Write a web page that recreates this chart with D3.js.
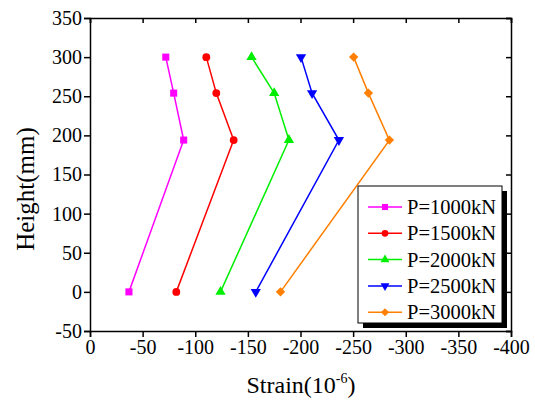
<!DOCTYPE html>
<html>
<head>
<meta charset="utf-8">
<script src="https://cdn.jsdelivr.net/npm/d3@7"></script>
</head>
<body style="margin:0">
<div id="chart"></div>
<script>
// data
const heights = [300, 254, 194, 0];
const loads = ["P=1000kN", "P=1500kN", "P=2000kN", "P=2500kN", "P=3000kN"];
const strain1000 = [-72, -79.5, -89, -37];
const strain1500 = [-110.5, -120, -136.5, -82];
const strain2000 = [-153.5, -175, -189, -124];
const strain2500 = [-200.5, -211, -236.5, -157.5];
const strain3000 = [-250.5, -264.5, -284.5, -181];
const colors = ["#ff00ff", "#ff0000", "#00ee00", "#0000ff", "#ff8000"];
const xTicks = [0, -50, -100, -150, -200, -250, -300, -350, -400];
const yTicks = [-50, 0, 50, 100, 150, 200, 250, 300, 350];

// marker: symbol type, size, rotation
const markers = [
  { type: d3.symbolSquare, size: 50, rot: 0 },
  { type: d3.symbolCircle, size: 48, rot: 0 },
  { type: d3.symbolTriangle, size: 46, rot: 0 },
  { type: d3.symbolTriangle, size: 46, rot: 180 },
  { type: d3.symbolSquare, size: 44, rot: 45 }
];

const series = [strain1000, strain1500, strain2000, strain2500, strain3000].map((s, i) => ({
  name: loads[i],
  color: colors[i],
  marker: markers[i],
  points: s.map((v, j) => ({ x: v, y: heights[j] }))
}));

const W = 535, H = 401;
const margin = { top: 18, right: 24, bottom: 70, left: 90 };
const width = W - margin.left - margin.right, height = H - margin.top - margin.bottom;
const serif = "Liberation Serif";

const svg = d3.select("#chart").append("svg")
  .attr("width", W).attr("height", H);

const g = svg.append("g")
  .attr("transform", `translate(${margin.left},${margin.top})`);

const x = d3.scaleLinear().domain([0, -400]).range([0, width]);
const y = d3.scaleLinear().domain([-50, 350]).range([height, 0]);

const fmt = d => String(d);

// axes
g.append("g").attr("transform", `translate(0,${height})`)
  .call(d3.axisBottom(x).tickValues(xTicks).tickFormat(fmt).tickSize(6).tickPadding(3))
  .call(a => a.attr("font-family", serif).attr("font-size", 20))
  .call(a => a.selectAll("text").attr("fill", "#000"));
g.append("g")
  .call(d3.axisLeft(y).tickValues(yTicks).tickFormat(fmt).tickSize(6).tickPadding(2))
  .call(a => a.attr("font-family", serif).attr("font-size", 20))
  .call(a => a.selectAll("text").attr("fill", "#000"));
g.append("g")
  .call(d3.axisTop(x).tickValues(xTicks).tickFormat("").tickSize(-5));
g.append("g").attr("transform", `translate(${width},0)`)
  .call(d3.axisRight(y).tickValues(yTicks).tickFormat("").tickSize(-5));
g.selectAll(".domain, .tick line").attr("stroke", "#000").attr("stroke-width", 1.5);

// lines + markers
const line = d3.line().x(d => x(d.x)).y(d => y(d.y));
series.forEach(s => {
  g.append("path").datum(s.points)
    .attr("fill", "none").attr("stroke", s.color).attr("stroke-width", 1.5)
    .attr("d", line);
  g.selectAll(null).data(s.points).enter().append("path")
    .attr("d", d3.symbol().type(s.marker.type).size(s.marker.size))
    .attr("transform", d => `translate(${x(d.x)},${y(d.y)}) rotate(${s.marker.rot})`)
    .attr("fill", s.color);
});

// legend
const lg = svg.append("g").attr("transform", "translate(358,186)");
const lw = 144, lh = 137;
lg.append("rect").attr("x", 5).attr("y", 5).attr("width", lw).attr("height", lh).attr("fill", "#000");
lg.append("rect").attr("width", lw).attr("height", lh).attr("fill", "#fff")
  .attr("stroke", "#000").attr("stroke-width", 1);
series.forEach((s, i) => {
  const yy = 21 + i * 26.3;
  lg.append("line").attr("x1", 10).attr("x2", 44).attr("y1", yy).attr("y2", yy)
    .attr("stroke", s.color).attr("stroke-width", 1.5);
  lg.append("path")
    .attr("d", d3.symbol().type(s.marker.type).size(s.marker.size * 0.75))
    .attr("transform", `translate(27,${yy}) rotate(${s.marker.rot})`)
    .attr("fill", s.color);
  lg.append("text").attr("x", 49).attr("y", yy + 7)
    .attr("font-family", serif).attr("font-size", 20.5).text(s.name);
});

// axis titles
const xt = svg.append("text").attr("x", 301).attr("y", 393)
  .attr("text-anchor", "middle").attr("font-family", serif).attr("font-size", 24);
xt.append("tspan").text("Strain(10");
xt.append("tspan").attr("font-size", 14).attr("dy", -10).text("-6");
xt.append("tspan").attr("dy", 10).text(")");

svg.append("text")
  .attr("transform", `translate(34,189) rotate(-90)`)
  .attr("text-anchor", "middle").attr("font-family", serif).attr("font-size", 25).text("Height(mm)");
</script>
</body>
</html>
